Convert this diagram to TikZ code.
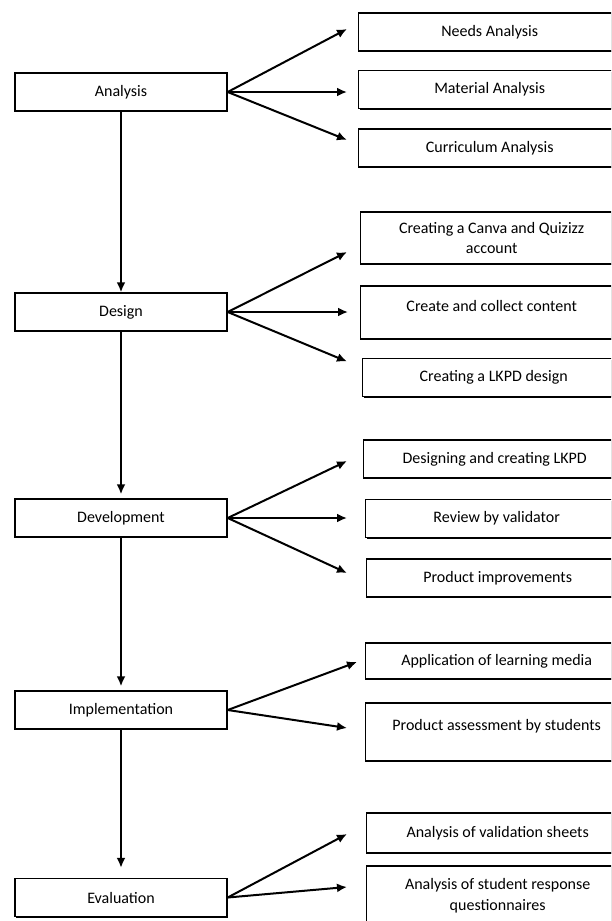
\documentclass[tikz,border=0pt]{standalone}
\usepackage{fontspec}
\setmainfont{Carlito}
\usetikzlibrary{calc, shadows, arrows.meta}

\tikzset{
  box/.style={draw, fill=white, line width=0.7pt, inner sep=2pt, align=center,
    drop shadow={shadow xshift=0.5pt, shadow yshift=-0.6pt, fill=black, opacity=1},
    font=\fontsize{8}{10.3}\selectfont},
  stage/.style={box, minimum width=106pt, minimum height=19pt},
  task/.style={box, anchor=west, minimum width=131pt, minimum height=#1},
  task/.default=19pt,
  toptext/.style={text height=5.5pt, text depth=7pt},
  arr/.style={line width=1pt, -{Latex[length=5pt,width=4.5pt]}}
}

\begin{document}
\begin{tikzpicture}[x=0.5pt, y=-0.5pt]
                    \clip (0,0) rectangle (611,921);
                    \fill[white] (0,0) rectangle (611,921);
                    % stages
                    \node[stage] (ana) at (121,92) {Analysis};
                    \node[stage] (des) at (121,312) {Design};
                    \node[stage] (dev) at (121,518) {Development};
                    \node[stage] (imp) at (121,710) {Implementation};
                    \node[stage] (eva) at (121,897.5) {Evaluation};
                    % tasks
                    \node[task] (needs) at (358,32) {Needs Analysis};
                    \node[task] (mat) at (358,89.5) {Material Analysis};
                    \node[task] (cur) at (358,148) {Curriculum Analysis};
                    \node[task=26pt] (canva) at (360,238) {Creating a Canva and Quizizz\\account};
                    \node[task=26.5pt, toptext] (content) at (360,312.5) {Create and collect content};
                    \node[task] (lkpd) at (362,377.5) {Creating a LKPD design};
                    \node[task] (make) at (363,459) {Designing and creating LKPD};
                    \node[task] (review) at (365,518.5) {Review by validator};
                    \node[task] (improve) at (366,578) {Product improvements};
                    \node[task=18pt] (apply) at (365,661) {Application of learning media};
                    \node[task=29pt, toptext] (assess) at (365,732) {Product assessment by students};
                    \node[task=20pt] (valid) at (366,833) {Analysis of validation sheets};
                    \node[task=30pt] (resp) at (366,896) {Analysis of student response\\questionnaires};
                    % main flow
                    \draw[arr] (ana.south) -- (des.north);
                    \draw[arr, shorten >=2pt] (des.south) -- (dev.north);
                    \draw[arr, shorten >=2pt] (dev.south) -- (imp.north);
                    \draw[arr, shorten >=5pt] (imp.south) -- (eva.north);
                    % branches
                    \draw[arr] (ana.east) -- ($(needs.west)+(-11,-3)$);
                    \draw[arr] (ana.east) -- ($(mat.west)+(-11,2.5)$);
                    \draw[arr] (ana.east) -- ($(cur.west)+(-11,-8)$);
                    \draw[arr] (des.east) -- ($(canva.west)+(-13,14)$);
                    \draw[arr] (des.east) -- ($(content.west)+(-12,-0.5)$);
                    \draw[arr] (des.east) -- ($(lkpd.west)+(-15,-16)$);
                    \draw[arr] (dev.east) -- ($(make.west)+(-16,2)$);
                    \draw[arr] (dev.east) -- ($(review.west)+(-18,-0.5)$);
                    \draw[arr] (dev.east) -- ($(improve.west)+(-19,-5)$);
                    \draw[arr] (imp.east) -- ($(apply.west)+(-8,1)$);
                    \draw[arr] (imp.east) -- ($(assess.west)+(-18,-4)$);
                    \draw[arr] (eva.east) -- ($(valid.west)+(-19,1)$);
                    \draw[arr] (eva.east) -- ($(resp.west)+(-19,-9)$);
                \end{tikzpicture}
\end{document}
